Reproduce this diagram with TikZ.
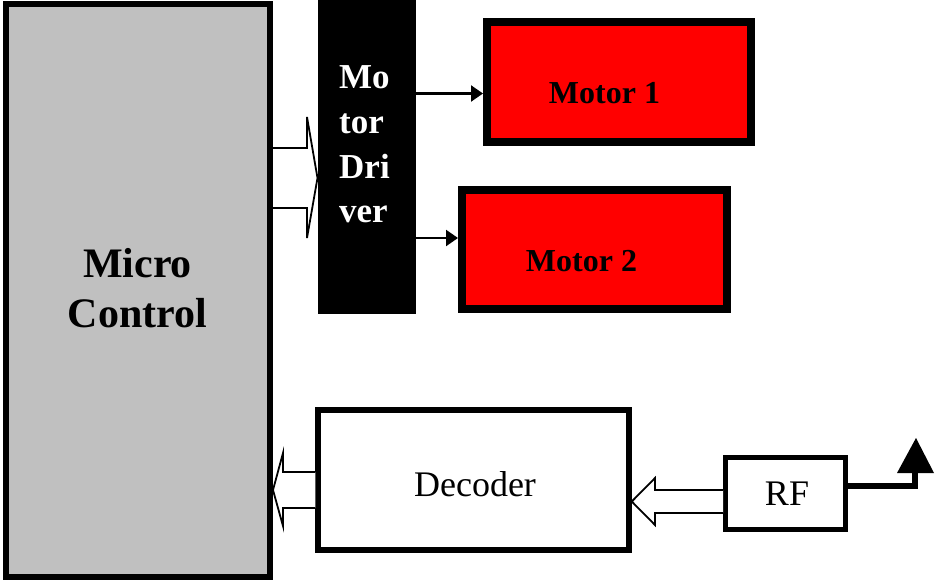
\documentclass[tikz,border=0pt]{standalone}
\usepackage{fontspec}
\setmainfont{Liberation Serif}
\usetikzlibrary{arrows.meta}
\definecolor{mcgray}{HTML}{C0C0C0}
\definecolor{mred}{HTML}{FF0000}
\begin{document}
\begin{tikzpicture}[x=1pt,y=-1pt,
  box/.style={draw,rectangle,inner sep=0pt},
  hollow/.style={draw,fill=white,line width=1.8pt,line join=miter},
  feed/.style={line width=2.2pt,-{Triangle[length=12pt,width=16pt]}},
  bigbold/.style={font=\fontsize{42}{50}\selectfont\bfseries,anchor=base,inner sep=0pt},
  drvtxt/.style={font=\fontsize{35}{45}\selectfont\bfseries,text=white,anchor=base west,inner sep=0pt},
  mottxt/.style={font=\fontsize{32}{36}\selectfont\bfseries,anchor=base,inner sep=0pt},
  plain/.style={font=\fontsize{36}{40}\selectfont,anchor=base,inner sep=0pt}]
\useasboundingbox (0,0) rectangle (935,581);
% boxes
\node[box,line width=6pt,fill=mcgray,minimum width=264pt,minimum height=573pt] (micro) at (138,290.5) {};
\node[rectangle,fill=black,inner sep=0pt,outer sep=0pt,minimum width=98pt,minimum height=314pt] (driver) at (366.5,157) {};
\node[box,line width=8pt,fill=mred,minimum width=264pt,minimum height=120pt] (m1) at (619,82) {};
\node[box,line width=8pt,fill=mred,minimum width=265pt,minimum height=119pt] (m2) at (594.5,249.5) {};
\node[box,line width=5.5pt,fill=white,minimum width=311pt,minimum height=140pt] (dec) at (473.5,480) {};
\node[box,line width=5pt,fill=white,minimum width=120pt,minimum height=72pt] (rf) at (785.5,493.5) {};
% texts
\node[bigbold] (tmicro) at (137.5,277) {Micro};
\node[bigbold] (tcontrol) at (137.5,327) {Control};
\node[drvtxt] (t1) at (339,88) {Mo};
\node[drvtxt] (t2) at (339,133) {tor};
\node[drvtxt] (t3) at (339,178) {Dri};
\node[drvtxt] (t4) at (339,222) {ver};
\node[mottxt] (tm1) at (604.5,103) {Motor 1};
\node[mottxt] (tm2) at (581.5,271) {Motor 2};
\node[plain] (tdec) at (475,496) {Decoder};
\node[plain] (trf) at (787,505) {RF};
% hollow arrows
\filldraw[hollow] (micro.east |- 0,148) -- (307,148) -- (307,117) -- (driver.west |- 0,178) -- (307,238) -- (307,208) -- (micro.east |- 0,208);
\filldraw[hollow] (dec.west |- 0,472) -- (283,472) -- (283,453) -- (micro.east |- 0,490) -- (283,526) -- (283,508) -- (dec.west |- 0,508);
\filldraw[hollow] (rf.west |- 0,490) -- (655,490) -- (655,478) -- (dec.east |- 0,501.5) -- (655,525) -- (655,513) -- (rf.west |- 0,513);
% driver to motors
\draw[feed] (driver.east |- 0,93.5) -- (m1.west |- 0,93.5);
\draw[feed] (driver.east |- 0,238) -- (m2.west |- 0,238);
% antenna
\coordinate (ant) at (915,472);
\draw[line width=6pt] (rf.east |- 0,486) -- (ant |- 0,486) -- (ant);
\fill (897,473) -- (916,438) -- (934,473) -- cycle;
\end{tikzpicture}
\end{document}
